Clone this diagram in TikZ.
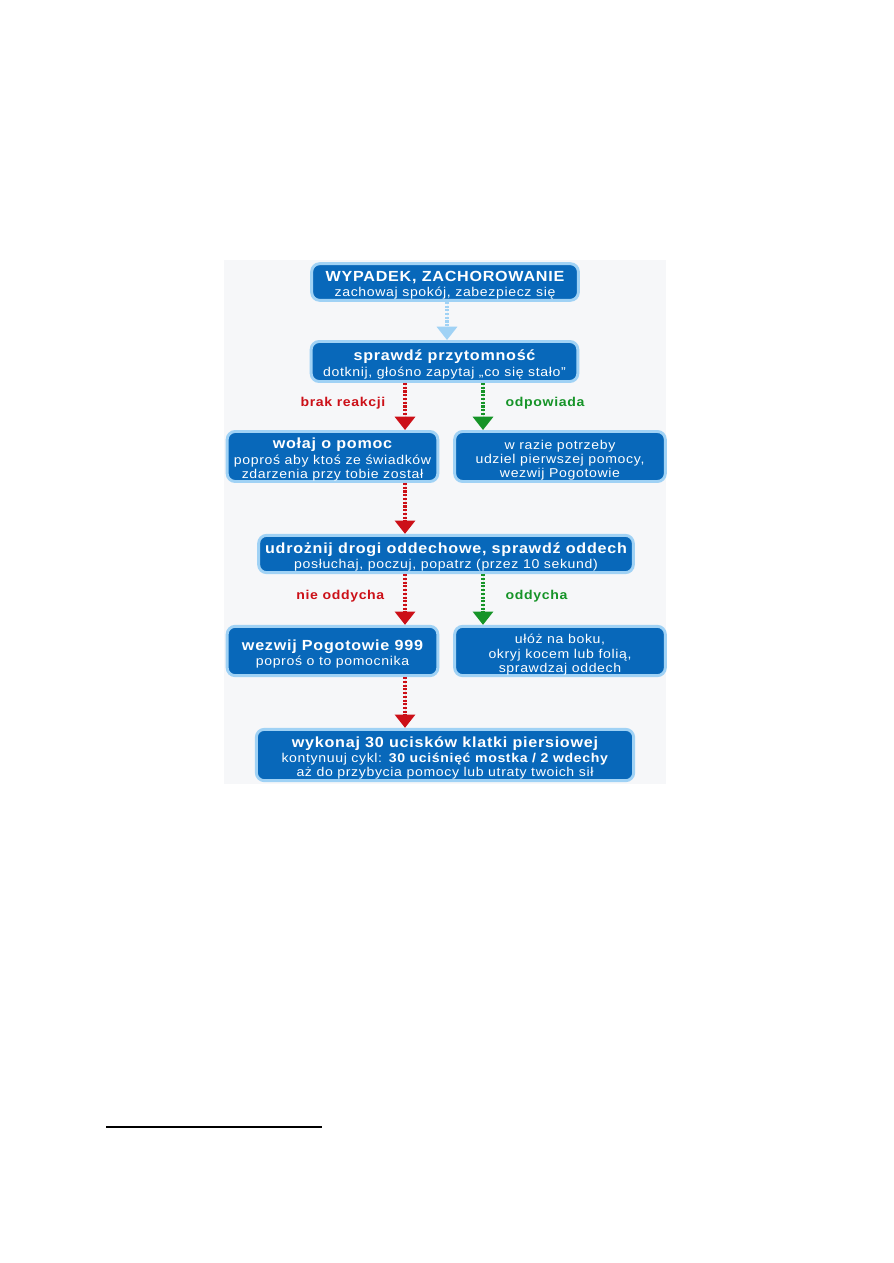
\documentclass[tikz,border=0pt]{standalone}
\usepackage{fontspec}
\setmainfont{Liberation Sans}[FakeStretch=1.1,LetterSpace=5]
\usetikzlibrary{arrows.meta}
\definecolor{boxblue}{RGB}{8,104,186}
\definecolor{rimblue}{RGB}{160,210,245}
\definecolor{arrred}{RGB}{204,16,24}
\definecolor{arrgreen}{RGB}{22,148,40}
\definecolor{arrlight}{RGB}{160,210,245}
\definecolor{bggray}{RGB}{246,247,249}
\newcommand{\ttlfont}{\fontsize{11}{11}\selectfont\bfseries}
\newcommand{\topstrut}{\rule{0pt}{12.5pt}}
\begin{document}
\begin{tikzpicture}[x=0.75pt,y=-0.75pt,
  flowbox/.style={rectangle,rounded corners=6pt,fill=boxblue,draw=rimblue,line width=2.2pt,
    text=white,align=center,inner sep=0pt,font=\fontsize{9.6}{10.6}\selectfont},
  flowarrow/.style={line width=3.2pt,dash pattern=on 1.6pt off 1.2pt,
    -{Triangle[width=15pt,length=10pt]}},
  redarr/.style={flowarrow,draw=arrred,fill=arrred},
  greenarr/.style={flowarrow,draw=arrgreen,fill=arrgreen},
  lightarr/.style={flowarrow,draw=arrlight,fill=arrlight},
  lbl/.style={font=\fontsize{9.6}{10}\selectfont\bfseries},
]
\useasboundingbox (0,0) rectangle (893,1263);
\fill[white] (0,0) rectangle (893,1263);
\fill[bggray] (224,260) rectangle (666,784);

\node[flowbox,minimum width=200pt,minimum height=27.5pt] (b1) at (445,282)
  {\topstrut{\ttlfont WYPADEK, ZACHOROWANIE}\\[1.2pt]zachowaj spokój, zabezpiecz się};
\node[flowbox,minimum width=200pt,minimum height=30pt] (b2) at (444.5,361.5)
  {\topstrut{\ttlfont sprawdź przytomność}\\[1.2pt]dotknij, głośno zapytaj „co się stało”};
\node[flowbox,minimum width=158pt,minimum height=37.5pt] (b3) at (332.5,456.5)
  {\topstrut{\ttlfont wołaj o pomoc}\\[1.2pt]poproś aby ktoś ze świadków\\zdarzenia przy tobie został};
\node[flowbox,minimum width=158pt,minimum height=37.5pt] (b4) at (560,456.5)
  {\topstrut w razie potrzeby\\udziel pierwszej pomocy,\\wezwij Pogotowie};
\node[flowbox,minimum width=281pt,minimum height=28pt] (b5) at (446,554)
  {\topstrut{\ttlfont udrożnij drogi oddechowe, sprawdź oddech}\\[1.2pt]posłuchaj, poczuj, popatrz (przez 10 sekund)};
\node[flowbox,minimum width=158pt,minimum height=37pt] (b6) at (332.5,651)
  {\topstrut{\ttlfont wezwij Pogotowie 999}\\[1.2pt]poproś o to pomocnika};
\node[flowbox,minimum width=158pt,minimum height=37pt] (b7) at (560,651)
  {\topstrut ułóż na boku,\\okryj kocem lub folią,\\sprawdzaj oddech};
\node[flowbox,minimum width=283pt,minimum height=38.5pt] (b8) at (445,755)
  {\topstrut{\ttlfont wykonaj 30 ucisków klatki piersiowej}\\[1.2pt]kontynuuj cykl: \textbf{30 uciśnięć mostka / 2 wdechy}\\aż do przybycia pomocy lub utraty twoich sił};

\coordinate (xc) at (447,0);
\coordinate (xr) at (405,0);
\coordinate (xg) at (483,0);

\draw[lightarr] (b1.south -| xc) -- (b2.north -| xc);
\draw[redarr] (b2.south -| xr) -- (b3.north -| xr);
\draw[greenarr] (b2.south -| xg) -- (b4.north -| xg);
\draw[redarr] (b3.south -| xr) -- (b5.north -| xr);
\draw[redarr] (b5.south -| xr) -- (b6.north -| xr);
\draw[greenarr] (b5.south -| xg) -- (b7.north -| xg);
\draw[redarr] (b6.south -| xr) -- (b8.north -| xr);

\node[lbl,text=arrred,anchor=east] (l1) at (390,403) {brak reakcji};
\node[lbl,text=arrgreen,anchor=west] (l2) at (501,403) {odpowiada};
\node[lbl,text=arrred,anchor=east] (l3) at (389,596) {nie oddycha};
\node[lbl,text=arrgreen,anchor=west] (l4) at (501,596) {oddycha};

\coordinate (fa) at (106,1127);
\coordinate (fb) at (322,1127);
\draw[line width=0.8pt] (fa) -- (fb);
\end{tikzpicture}
\end{document}
